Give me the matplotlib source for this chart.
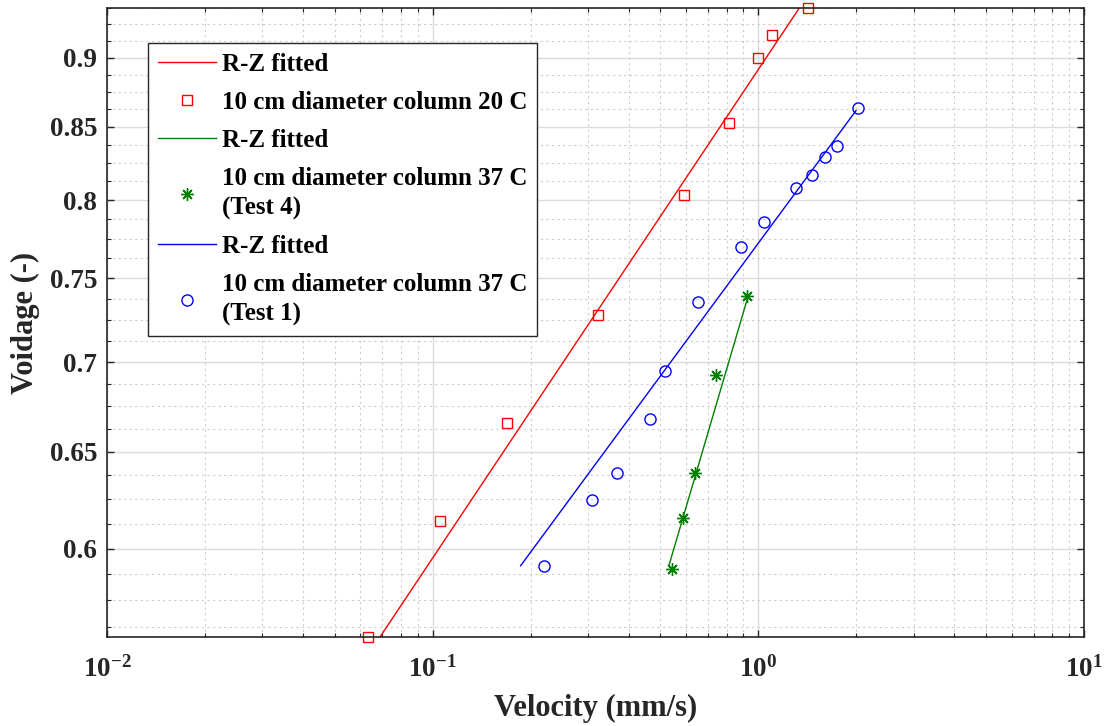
import matplotlib
matplotlib.use('Agg')
import matplotlib.pyplot as plt
import matplotlib.ticker as ticker
import numpy as np

plt.rcParams['font.family'] = ['Liberation Serif', 'DejaVu Serif']
plt.rcParams['font.weight'] = 'bold'

# 10 cm column, 20 C (red squares)
red_v = [1.421, 1.099, 1.000, 0.814, 0.590, 0.321, 0.1694, 0.1056, 0.0634]
red_e = [0.9376, 0.9173, 0.900, 0.853, 0.8032, 0.7275, 0.6655, 0.6137, 0.5579]
red_fit_v = [0.0689, 1.336]
red_fit_e = [0.5579, 0.9376]

# 10 cm column, 37 C test 4 (green stars)
green_v = [0.926, 0.7394, 0.637, 0.5857, 0.5436]
green_e = [0.7391, 0.6925, 0.6385, 0.6157, 0.5902]
green_fit_v = [0.532, 0.93]
green_fit_e = [0.5921, 0.7391]

# 10 cm column, 37 C test 1 (blue circles)
blue_v = [2.026, 1.746, 1.605, 1.464, 1.306, 1.043, 0.8835, 0.653,
          0.5175, 0.4653, 0.3677, 0.3078, 0.2193]
blue_e = [0.8636, 0.8367, 0.8290, 0.8167, 0.8079, 0.7860, 0.7697, 0.7355,
          0.6948, 0.6677, 0.6385, 0.6248, 0.5918]
blue_fit_v = [0.1862, 1.995]
blue_fit_e = [0.5917, 0.8615]

y_ticks = [0.6, 0.65, 0.7, 0.75, 0.8, 0.85, 0.9]
x_ticks = [1e-2, 1e-1, 1e0, 1e1]

fig = plt.figure(figsize=(11.09, 7.26), dpi=100)
ax = fig.add_axes([0.0965, 0.1226, 0.881, 0.8664])

ax.plot(red_fit_v, red_fit_e, '-', color='red', lw=1.0, label='R-Z fitted')
ax.plot(red_v, red_e, 's', color='red', mfc='none', ms=7, mew=1.0, clip_on=False,
        label='10 cm diameter column 20 C')
ax.plot(green_fit_v, green_fit_e, '-', color='green', lw=1.0, label='R-Z fitted')
ax.plot(green_v, green_e, ls='none', marker=(8, 2, 0), color='green', ms=9, mew=1.0,
        clip_on=False, label='10 cm diameter column 37 C\n(Test 4)')
ax.plot(blue_fit_v, blue_fit_e, '-', color='blue', lw=1.0, label='R-Z fitted')
ax.plot(blue_v, blue_e, 'o', color='blue', mfc='none', ms=8, mew=1.0, clip_on=False,
        label='10 cm diameter column 37 C\n(Test 1)')

ax.set_xscale('log')
ax.set_yscale('log')
ax.set_xlim(1e-2, 1e1)
ax.set_ylim(min(red_e), max(red_e))

ax.xaxis.set_major_locator(ticker.FixedLocator(x_ticks))
ax.xaxis.set_major_formatter(ticker.LogFormatterSciNotation())
ax.xaxis.set_minor_locator(ticker.LogLocator(base=10, subs=np.arange(2, 10)))
ax.xaxis.set_minor_formatter(ticker.NullFormatter())

ax.yaxis.set_major_locator(ticker.FixedLocator(y_ticks))
ax.yaxis.set_major_formatter(ticker.FormatStrFormatter('%g'))
minor_y = [v for v in np.arange(0.55, 0.95, 0.0125) if min(abs(v - t) for t in y_ticks) > 1e-6]
ax.yaxis.set_minor_locator(ticker.FixedLocator(minor_y))
ax.yaxis.set_minor_formatter(ticker.NullFormatter())

ax.grid(True, which='major', color='0.86', lw=1.0)
ax.grid(True, which='minor', color='0.8', lw=0.8, ls=(0, (2, 3)))
ax.set_axisbelow(True)

ax.tick_params(which='both', direction='in', top=True, right=True, colors='0.15')
ax.tick_params(which='major', length=5, width=1.0)
ax.tick_params(which='minor', length=3, width=0.8)
ax.tick_params(axis='x', which='major', labelsize=19.5, pad=14)
ax.tick_params(axis='y', which='major', labelsize=19.5, pad=7)
for sp in ax.spines.values():
    sp.set_color('0.15')
    sp.set_linewidth(1.2)

ax.set_xlabel('Velocity (mm/s)', fontsize=22, fontweight='bold', labelpad=8, color='0.15')
ax.set_ylabel('Voidage (-)', fontsize=22, fontweight='bold', labelpad=7, color='0.15')

leg = ax.legend(loc='upper left', bbox_to_anchor=(0.042, 0.944), fontsize=18,
                frameon=True, fancybox=False, framealpha=1, edgecolor='0.15',
                handlelength=2.3, handletextpad=0.25, labelspacing=0.6,
                borderpad=0.4, borderaxespad=0)
leg.get_frame().set_linewidth(1.0)
for t in leg.get_texts():
    t.set_linespacing(1.35)

fig.savefig('out.png', dpi=100)
